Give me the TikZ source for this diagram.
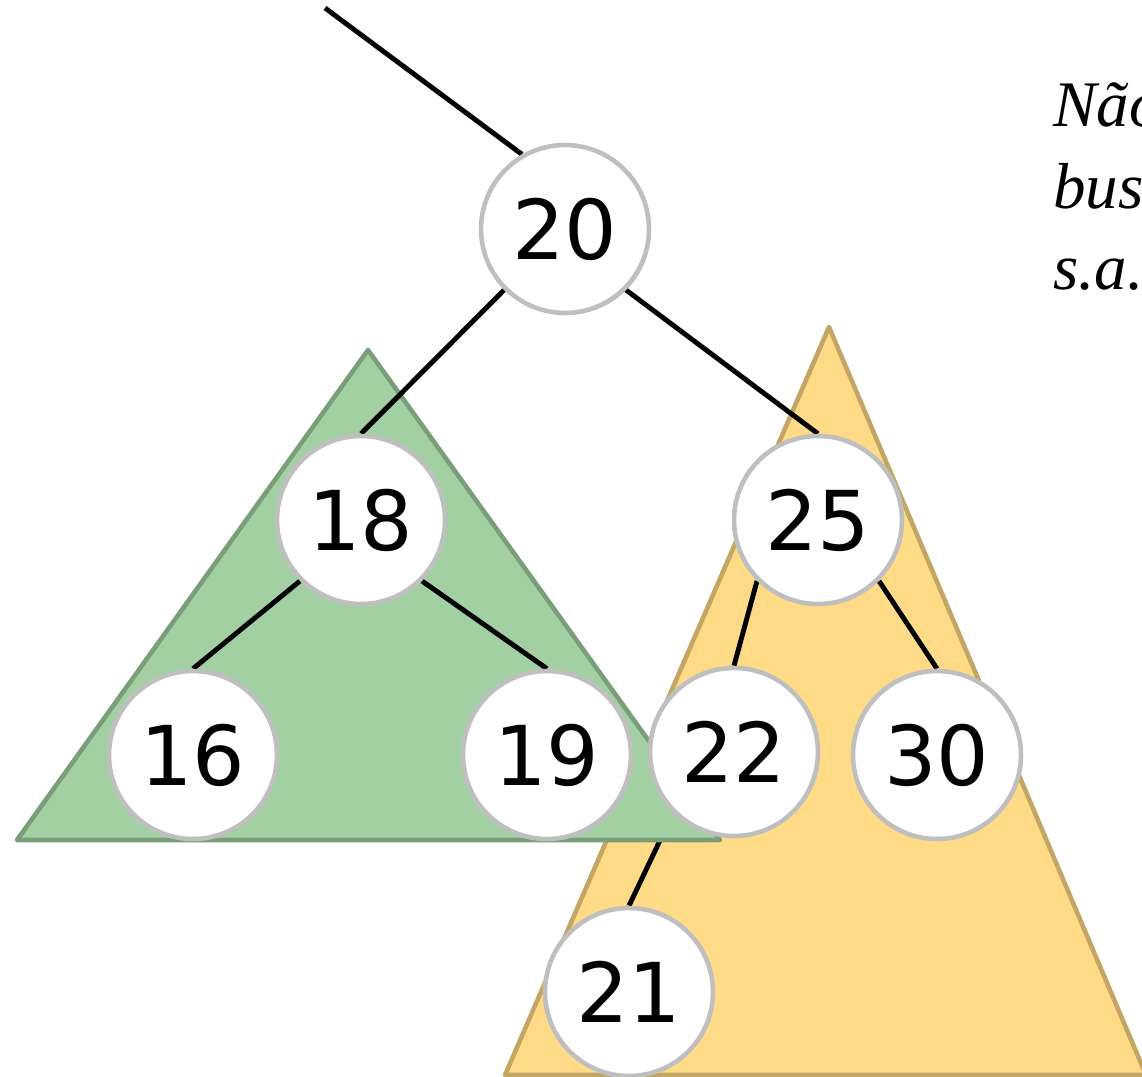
\documentclass[tikz,border=0pt]{standalone}
\usepackage{fontspec}
\setmainfont{Liberation Serif}
\newfontfamily\digitfont{DejaVu Sans}
\usepackage{tikz}
\usetikzlibrary{shadows}
\definecolor{keyrim}{HTML}{BFBFBF}
\definecolor{leftfill}{HTML}{A3D0A3}
\definecolor{leftrim}{HTML}{7A9E7A}
\definecolor{rightfill}{HTML}{FFDA87}
\definecolor{rightrim}{HTML}{C4A664}
\pgfdeclarelayer{back}
\pgfdeclarelayer{mid}
\pgfsetlayers{back,mid,main}

\begin{document}
\begin{tikzpicture}[x=0.02cm, y=-0.02cm,
        key/.style={circle, draw=keyrim, fill=white, line width=2.6pt,
          minimum size=3.36cm, inner sep=0pt,
          font=\digitfont\fontsize{47}{56}\selectfont},
        link/.style={line width=2.8pt, black},
        subtree/.style={line width=2.6pt, line join=round}]
      \useasboundingbox (0,0) rectangle (1142,1077);
      % chaves
      \node[key, drop shadow={shadow xshift=1pt, shadow yshift=-1pt, opacity=0.6}]
        (n20) at (565,229) {20};
      \node[key] (n18) at (361,520) {18};
      \node[key] (n25) at (818,520) {25};
      \node[key] (n16) at (193,755) {16};
      \node[key] (n19) at (547,755) {19};
      \node[key] (n22) at (734,752) {22};
      \node[key] (n30) at (937,755) {30};
      \node[key] (n21) at (629,992) {21};
      \coordinate (entry) at (325,8);
      % subarvores
      \begin{pgfonlayer}{back}
        \draw[subtree, fill=rightfill, draw=rightrim]
          (829,327) -- (505,1075) -- (1146,1075) -- cycle;
        \draw[link] (n22.-135) -- (n21.north);
      \end{pgfonlayer}
      \begin{pgfonlayer}{mid}
        \draw[subtree, fill=leftfill, draw=leftrim]
          (368,350) -- (17,840) -- (720,840) -- cycle;
        \draw[link] (entry) -- (n20.120);
        \draw[link] (n20.-135) -- (n18.north);
        \draw[link] (n20.-45) -- (n25.north);
        \draw[link] (n18.-135) -- (n16.north);
        \draw[link] (n18.-45) -- (n19.north);
        \draw[link] (n25.-135) -- (n22.north);
        \draw[link] (n25.-45) -- (n30.north);
      \end{pgfonlayer}
      \node[anchor=base west, inner sep=0pt, align=left,
        font=\itshape\fontsize{37}{46.5}\selectfont] (note) at (1053,290)
        {Não\\bus\\s.a.};
    \end{tikzpicture}
\end{document}
